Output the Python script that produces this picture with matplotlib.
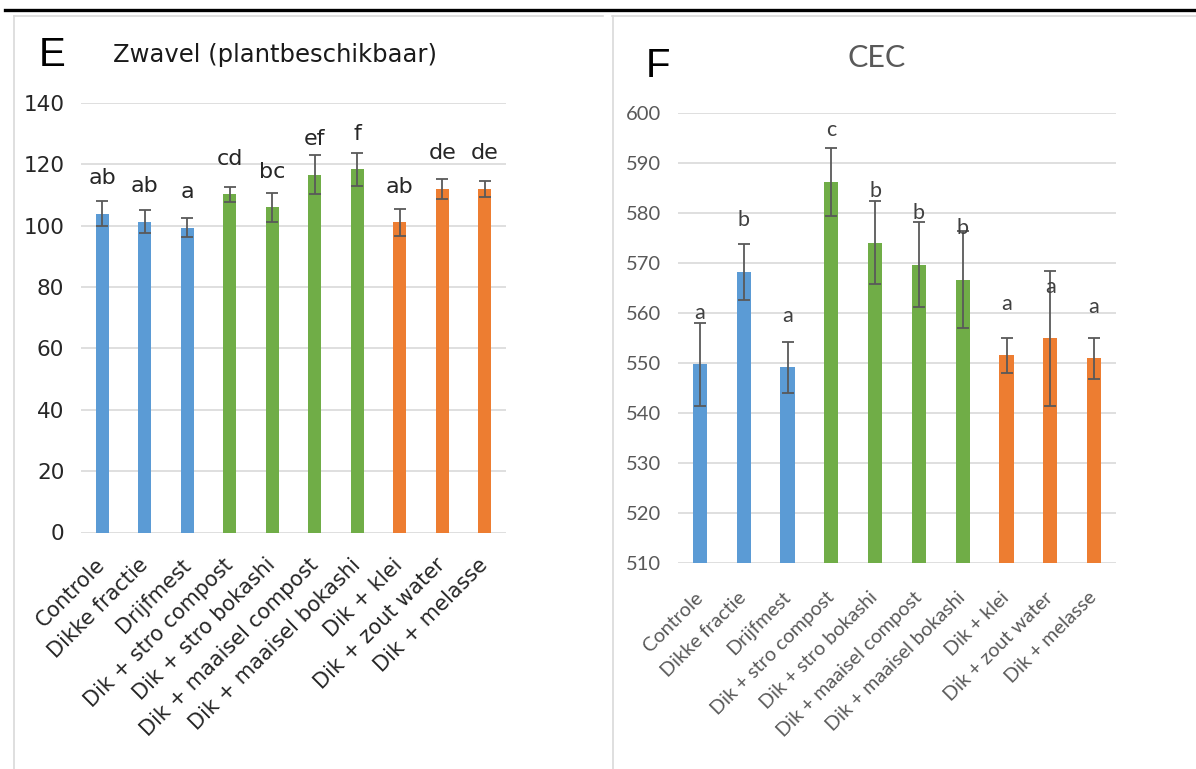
import matplotlib
matplotlib.use("Agg")
import matplotlib.pyplot as plt
from matplotlib.lines import Line2D
import numpy as np

categories = ["Controle", "Dikke fractie", "Drijfmest", "Dik + stro compost",
              "Dik + stro bokashi", "Dik + maaisel compost", "Dik + maaisel bokashi",
              "Dik + klei", "Dik + zout water", "Dik + melasse"]
group_colors = ["#5B9BD5"] * 3 + ["#70AD47"] * 4 + ["#ED7D31"] * 3

zwavel_values = [103.9, 101.3, 99.3, 110.1, 105.9, 116.6, 118.3, 101.0, 112.0, 112.0]
zwavel_err = [4.2, 3.7, 3.0, 2.6, 4.8, 6.5, 5.4, 4.4, 3.3, 2.6]
zwavel_letters = ["ab", "ab", "a", "cd", "bc", "ef", "f", "ab", "de", "de"]
zwavel_ticks = [0, 20, 40, 60, 80, 100, 120, 140]

cec_values = [549.7, 568.3, 549.1, 586.3, 574.1, 569.7, 566.7, 551.5, 554.9, 550.9]
cec_err = [8.3, 5.6, 5.1, 6.8, 8.3, 8.5, 9.7, 3.6, 13.6, 4.2]
cec_letters = ["a", "b", "a", "c", "b", "b", "b", "a", "a", "a"]
cec_ticks = [510, 520, 530, 540, 550, 560, 570, 580, 590, 600]

W, H = 1196, 769
fig = plt.figure(figsize=(W / 100, H / 100), dpi=100)
fig.patch.set_facecolor("white")

def px_axes(x0, x1, ytop, ybot):
    return fig.add_axes([x0 / W, 1 - ybot / H, (x1 - x0) / W, (ybot - ytop) / H])

GRID = "#d9d9d9"
ERRC = "#595959"

def style_axes(ax, ticks, tick_font, tick_color, tick_size, label_font, label_color,
               label_size, ypad, xpad):
    ax.set_ylim(ticks[0], ticks[-1])
    ax.set_xlim(-0.5, len(categories) - 0.5)
    ax.set_yticks(ticks)
    ax.yaxis.grid(True, color=GRID, linewidth=1.2)
    ax.set_axisbelow(True)
    for s in ax.spines.values():
        s.set_visible(False)
    ax.tick_params(axis="both", length=0)
    ax.tick_params(axis="y", pad=ypad)
    for t in ax.get_yticklabels():
        t.set_fontfamily(tick_font)
        t.set_fontsize(tick_size)
        t.set_color(tick_color)
    ax.set_xticks(range(len(categories)))
    ax.set_xticklabels(categories, rotation=45, ha="right", va="center",
                       rotation_mode="anchor", fontfamily=label_font,
                       fontsize=label_size, color=label_color)
    ax.tick_params(axis="x", pad=xpad)

x = np.arange(len(categories))

# ---------- Left panel (E) ----------
axL = px_axes(81, 506, 102.7, 532.5)
axL.bar(x, zwavel_values, width=0.31, color=group_colors, zorder=2)
axL.errorbar(x, zwavel_values, yerr=zwavel_err, fmt="none", ecolor=ERRC,
             elinewidth=1.3, capsize=4, capthick=1.3, zorder=3)
style_axes(axL, zwavel_ticks, "DejaVu Sans", "#262626", 15.5, "DejaVu Sans",
           "#262626", 15, 12, 21)
for xi, v, lab in zip(x, zwavel_values, zwavel_letters):
    axL.annotate(lab, (xi, v), xytext=(0, 25.7), textcoords="offset points",
                 ha="center", va="center", fontsize=16, color="#262626",
                 fontfamily="DejaVu Sans")
fig.text(113 / W, 1 - 55 / H, "Zwavel (plantbeschikbaar)", fontsize=17.5,
         fontfamily="DejaVu Sans", color="#1a1a1a", ha="left", va="center")
fig.text(39 / W, 1 - 55 / H, "E", fontsize=29, fontfamily="Liberation Sans",
         color="black", ha="left", va="center")

# ---------- Right panel (F) ----------
axR = px_axes(678, 1116, 113.3, 562.7)
axR.bar(x, cec_values, width=0.32, color=group_colors, zorder=2)
axR.errorbar(x, cec_values, yerr=cec_err, fmt="none", ecolor=ERRC,
             elinewidth=1.3, capsize=4, capthick=1.3, zorder=3)
style_axes(axR, cec_ticks, "Lato", "#595959", 14.5, "Lato", "#595959", 14.3, 12, 23)
for xi, v, lab in zip(x, cec_values, cec_letters):
    axR.annotate(lab, (xi, v), xytext=(0, 37), textcoords="offset points",
                 ha="center", va="center", fontsize=15.5, color="#404040",
                 fontfamily="Lato", zorder=4)
fig.text(877 / W, 1 - 58 / H, "CEC", fontsize=22, fontfamily="Lato",
         color="#595959", ha="center", va="center")
fig.text(646 / W, 1 - 66 / H, "F", fontsize=29, fontfamily="Liberation Sans",
         color="black", ha="left", va="center")

# ---------- Decorations: top rule and panel borders ----------
def fig_line(xs, ys, color, lw):
    fig.add_artist(Line2D([v / W for v in xs], [1 - v / H for v in ys],
                          color=color, linewidth=lw, transform=fig.transFigure))

fig_line([5, 1196], [9.5, 9.5], "black", 2.4)
fig_line([14, 603], [15.5, 15.5], GRID, 1.2)
fig_line([14, 14], [15.5, 769], GRID, 1.2)
fig_line([612, 1196], [15.5, 15.5], GRID, 1.2)
fig_line([612.5, 612.5], [15.5, 769], GRID, 1.2)

fig.savefig("out.png", dpi=100, facecolor="white")
